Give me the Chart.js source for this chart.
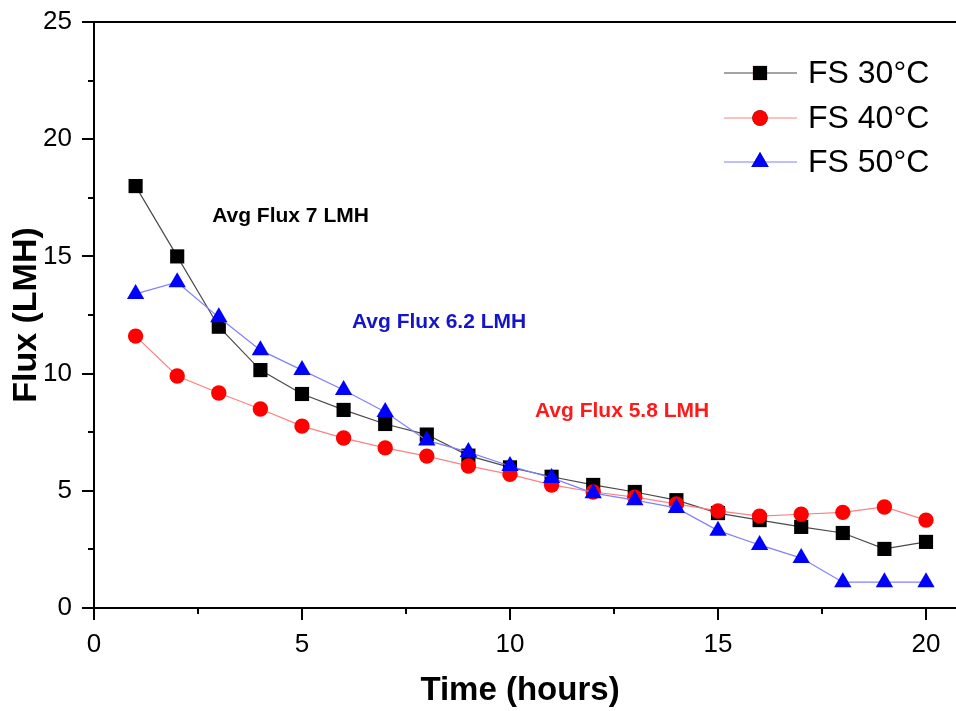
<!DOCTYPE html>
<html>
<head>
<meta charset="utf-8">
<script src="https://cdn.jsdelivr.net/npm/chart.js@4.4.1/dist/chart.umd.min.js"></script>
<style>
html,body{margin:0;padding:0;background:#fff;}
#wrap{width:956px;height:711px;position:relative;}
</style>
</head>
<body>
<div id="wrap"><canvas id="c" width="956" height="711"></canvas></div>
<script>
const hours = [1,2,3,4,5,6,7,8,9,10,11,12,13,14,15,16,17,18,19,20];
const fs30 = [18.0,15.0,12.0,10.15,9.13,8.45,7.85,7.4,6.5,6.0,5.6,5.25,4.95,4.6,4.05,3.75,3.46,3.2,2.52,2.82];
const fs40 = [11.6,9.9,9.17,8.49,7.76,7.25,6.83,6.48,6.06,5.7,5.25,4.95,4.73,4.44,4.14,3.92,4.0,4.08,4.31,3.75];
const fs50 = [13.4,13.9,12.4,11.0,10.15,9.3,8.36,7.15,6.65,6.06,5.55,4.9,4.6,4.27,3.3,2.69,2.13,1.1,1.1,1.1];
const seriesNames = ['FS 30\u00B0C','FS 40\u00B0C','FS 50\u00B0C'];
const notes = [
  {text:'Avg Flux 7 LMH', x:2.84, y:16.7, color:'#000000'},
  {text:'Avg Flux 6.2 LMH', x:6.2, y:12.2, color:'#1414c8'},
  {text:'Avg Flux 5.8 LMH', x:10.6, y:8.4, color:'#ff1a1a'}
];
const xTicks = [0,2.5,5,7.5,10,12.5,15,17.5,20];
const yTicks = [0,2.5,5,7.5,10,12.5,15,17.5,20,22.5,25];

const FONT = '"Liberation Sans", Arial, sans-serif';
const W = 956;

const extras = {
  id:'extras',
  afterDraw(chart){
    const ctx = chart.ctx, a = chart.chartArea;
    const xs = chart.scales.x, ys = chart.scales.y;
    ctx.save();
    ctx.strokeStyle = '#000'; ctx.lineWidth = 2;
    // top frame and bottom axis carried to the image edge
    ctx.beginPath(); ctx.moveTo(a.left-1, a.top); ctx.lineTo(W, a.top); ctx.stroke();
    ctx.beginPath(); ctx.moveTo(a.right-1, a.bottom); ctx.lineTo(W, a.bottom); ctx.stroke();
    // ticks
    xTicks.forEach(v=>{
      const px = Math.round(xs.getPixelForValue(v));
      const len = (v % 5 === 0) ? 12 : 6;
      ctx.beginPath(); ctx.moveTo(px, a.bottom); ctx.lineTo(px, a.bottom+len); ctx.stroke();
    });
    yTicks.forEach(v=>{
      const py = Math.round(ys.getPixelForValue(v));
      const len = (v % 5 === 0) ? 12 : 6;
      ctx.beginPath(); ctx.moveTo(a.left, py); ctx.lineTo(a.left-len, py); ctx.stroke();
    });
    // annotations
    ctx.font = 'bold 21px ' + FONT;
    ctx.textBaseline = 'middle'; ctx.textAlign = 'left';
    notes.forEach(n=>{
      ctx.fillStyle = n.color;
      ctx.fillText(n.text, xs.getPixelForValue(n.x), ys.getPixelForValue(n.y));
    });
    // legend
    const rows = [73,118,162];
    chart.data.datasets.forEach((ds,i)=>{
      const y = rows[i];
      ctx.strokeStyle = ds.borderColor; ctx.lineWidth = 1.2;
      ctx.beginPath(); ctx.moveTo(724,y); ctx.lineTo(797,y); ctx.stroke();
      Chart.helpers.drawPoint(ctx, {pointStyle: ds.pointStyle, radius: ds.pointRadius, rotation:0, borderWidth:0}, 760, y);
      ctx.fillStyle = ds.pointBackgroundColor;
      ctx.fill();
      ctx.fillStyle = '#000';
      ctx.font = '32px ' + FONT;
      ctx.textBaseline = 'middle'; ctx.textAlign = 'left';
      ctx.fillText(ds.label, 808, y+1);
    });
    ctx.restore();
  }
};

const chart = new Chart(document.getElementById('c'), {
  type:'line',
  data:{
    labels: hours,
    datasets:[
      {label:seriesNames[0], data:hours.map((h,i)=>({x:h,y:fs30[i]})), borderColor:'#4a4a4a', borderWidth:1.2,
       pointStyle:'rect', pointRadius:10, pointBackgroundColor:'#000', pointBorderColor:'#000', pointBorderWidth:0, order:2},
      {label:seriesNames[1], data:hours.map((h,i)=>({x:h,y:fs40[i]})), borderColor:'#ff8080', borderWidth:1.2,
       pointStyle:'circle', pointRadius:7.7, pointBackgroundColor:'#ff0000', pointBorderColor:'#ff0000', pointBorderWidth:0, order:1},
      {label:seriesNames[2], data:hours.map((h,i)=>({x:h,y:fs50[i]})), borderColor:'#8080ff', borderWidth:1.2,
       pointStyle:'triangle', pointRadius:10, pointBackgroundColor:'#0000ff', pointBorderColor:'#0000ff', pointBorderWidth:0, order:0}
    ]
  },
  options:{
    responsive:false, animation:false,
    layout:{padding:{top:22,left:0,right:0,bottom:0}},
    plugins:{legend:{display:false}, tooltip:{enabled:false}},
    elements:{line:{tension:0}},
    scales:{
      x:{type:'linear', min:0, max:20.72,
        afterBuildTicks(s){ s.ticks = xTicks.map(v=>({value:v})); },
        afterFit(s){ s.height = 103; s.paddingLeft = 0; s.paddingRight = 0;
          if (s._margins) { s._margins.left = 0; s._margins.right = 0; } },
        grid:{display:false, drawTicks:false}, border:{display:true,color:'#000',width:2},
        ticks:{padding:21, color:'#000', font:{family:FONT,size:26}, maxRotation:0, autoSkip:false,
          callback:(v)=> (v%5===0 ? String(v) : '')},
        title:{display:true, text:'Time (hours)', color:'#000', font:{family:FONT,size:33,weight:'bold'}, padding:{top:0,bottom:0}}
      },
      y:{type:'linear', min:0, max:25,
        afterBuildTicks(s){ s.ticks = yTicks.map(v=>({value:v})); },
        afterFit(s){ s.width = 94; s.paddingTop = 0; s.paddingBottom = 0; },
        grid:{display:false, drawTicks:false}, border:{display:true,color:'#000',width:2},
        ticks:{padding:22, color:'#000', font:{family:FONT,size:26}, autoSkip:false,
          callback:(v)=> (v%5===0 ? String(v) : '')},
        title:{display:true, text:'Flux (LMH)', color:'#000', font:{family:FONT,size:34,weight:'bold'}, padding:{top:6,bottom:0}}
      }
    }
  },
  plugins:[extras]
});
// keep 20 h at the same place as the reference (x = 926 px) whatever the plot width
const a = chart.chartArea;
if (Math.abs(a.right - W) > 0.5) {
  chart.options.scales.x.max = 20 * (a.right - a.left) / (926 - a.left);
  chart.update();
}
</script>
</body>
</html>
